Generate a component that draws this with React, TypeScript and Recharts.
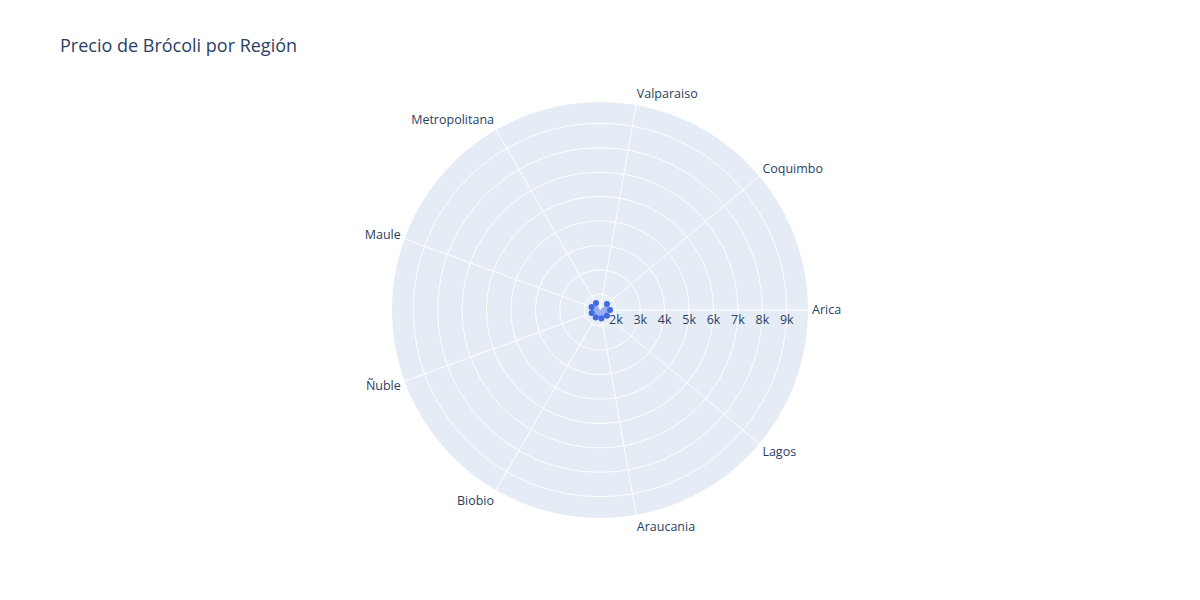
import React from 'react';
import { RadarChart, PolarGrid, PolarAngleAxis, PolarRadiusAxis, Radar } from 'recharts';

// regiones y precio (Arica sin dato)
const regiones = ['Arica', 'Coquimbo', 'Valparaiso', 'Metropolitana', 'Maule', 'Ñuble', 'Biobio', 'Araucania', 'Lagos'];
const precios: (number | null)[] = [null, 1680, 1720, 1715, 1700, 1700, 1720, 1760, 1725];
const radialTicks = [2000, 3000, 4000, 5000, 6000, 7000, 8000, 9000];
const radialDomain = [1350, 9870];

const data = regiones.map((region, i) => ({ region, precio: precios[i] }));

const W = 1200;
const H = 600;
const CX = 600;
const CY = 310;
const R = 208;
const FONT = '"Open Sans", verdana, arial, sans-serif';
const TXT = '#2a3f5f';
const AZUL = '#4169E1';
// recharts coloca la primera categoría una posición antes; se compensa
const PASO = 360 / regiones.length;

const AngleTick = (props: any) => {
  const { x, y, payload } = props;
  const a = Math.atan2(CY - y, x - CX);
  const c = Math.cos(a);
  const s = Math.sin(a);
  const anchor = c > 0.05 ? 'start' : c < -0.05 ? 'end' : 'middle';
  return (
    <text x={x} y={y - s * 8} dy="0.35em" textAnchor={anchor} fontSize={12.5} fill={TXT} fontFamily={FONT}>
      {payload.value}
    </text>
  );
};

const RadiusTick = (props: any) => {
  const { x, y, payload } = props;
  return (
    <text x={x} y={y + 10} dy="0.35em" textAnchor="middle" fontSize={12.5} fill={TXT} fontFamily={FONT}>
      {payload.value / 1000}k
    </text>
  );
};

// punto sin dato -> no se dibuja
const Punto = (props: any) => {
  const { cx, cy, payload } = props;
  const v = payload?.payload?.precio ?? payload?.precio;
  if (v == null || !Number.isFinite(cx) || !Number.isFinite(cy)) return <g key={props.key} />;
  return <circle key={props.key} cx={cx} cy={cy} r={3} fill={AZUL} />;
};

export default function App() {
  return (
    <div style={{ position: 'absolute', left: 0, top: 0, width: W, height: H, background: '#fff', fontFamily: FONT }}>
      <div
        style={{
          position: 'absolute',
          left: CX - R,
          top: CY - R,
          width: 2 * R,
          height: 2 * R,
          borderRadius: '50%',
          background: '#E5ECF6',
        }}
      />
      <div style={{ position: 'absolute', left: 60, top: 34, fontSize: 18, lineHeight: '22px', color: TXT }}>
        Precio de Brócoli por Región
      </div>
      <div style={{ position: 'absolute', left: 0, top: 0 }}>
        <RadarChart
          width={W}
          height={H}
          data={data}
          cx={CX}
          cy={CY}
          outerRadius={R}
          startAngle={PASO}
          endAngle={360 + PASO}
          margin={{ top: 0, right: 0, bottom: 0, left: 0 }}
        >
          <PolarGrid gridType="circle" stroke="#ffffff" strokeWidth={1} />
          <PolarAngleAxis dataKey="region" tick={AngleTick} tickLine={false} axisLine={false} tickSize={4} />
          <PolarRadiusAxis
            angle={0}
            type="number"
            domain={radialDomain}
            ticks={radialTicks}
            allowDataOverflow
            tick={RadiusTick}
            axisLine={false}
            tickLine={false}
          />
          <Radar
            dataKey="precio"
            stroke="none"
            fill={AZUL}
            fillOpacity={0.5}
            connectNulls
            dot={Punto}
            isAnimationActive={false}
          />
        </RadarChart>
      </div>
    </div>
  );
}
